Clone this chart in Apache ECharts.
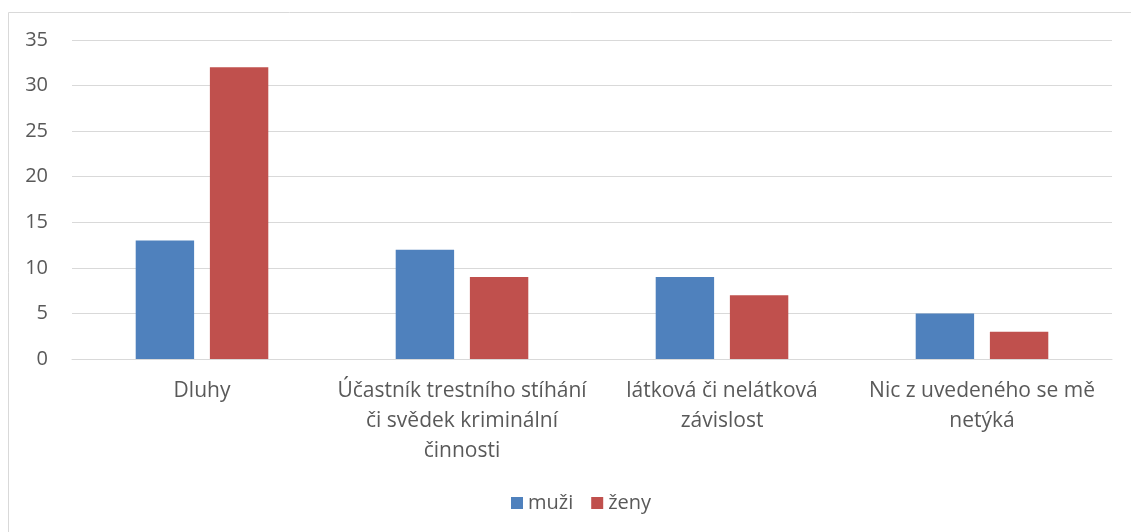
<!DOCTYPE html>
<html>
<head>
<meta charset="utf-8">
<script src="https://cdn.jsdelivr.net/npm/echarts@6/dist/echarts.min.js"></script>
<style>
  html, body { margin: 0; padding: 0; background: #fff; }
  #chart { width: 1131px; height: 532px; }
</style>
</head>
<body>
<div id="chart"></div>
<script>
const categories = [
  'Dluhy',
  'Účastník trestního stíhání\nči svědek kriminální\nčinnosti',
  'látková či nelátková\nzávislost',
  'Nic z uvedeného se mě\nnetýká'
]
const muzi = [13, 12, 9, 5]
const zeny = [32, 9, 7, 3]

const textColor = '#595959'
const font = 'Open Sans'

const chart = echarts.init(document.getElementById('chart'))
chart.setOption({
  animation: false,
  textStyle: { fontFamily: font },
  graphic: [{
    type: 'rect',
    shape: { x: 8.5, y: 12.5, width: 1140, height: 530 },
    style: { fill: 'none', stroke: '#d9d9d9', lineWidth: 1 },
    silent: true
  }],
  grid: { left: 72, right: 19, top: 40, bottom: 173 },
  legend: {
    bottom: 14,
    left: 506,
    itemWidth: 12,
    itemHeight: 12,
    itemGap: 18,
    icon: 'rect',
    textStyle: { color: textColor, fontSize: 20, fontFamily: font }
  },
  xAxis: {
    type: 'category',
    data: categories,
    axisLine: { lineStyle: { color: '#d9d9d9', width: 1 } },
    axisTick: { show: false },
    axisLabel: {
      color: textColor,
      fontSize: 21,
      lineHeight: 30,
      margin: 17,
      interval: 0
    }
  },
  yAxis: {
    type: 'value',
    min: 0,
    max: 35,
    interval: 5,
    axisLine: { show: false },
    axisTick: { show: false },
    splitLine: { lineStyle: { color: '#d9d9d9', width: 1 } },
    axisLabel: { color: textColor, fontSize: 20, margin: 24 }
  },
  series: [
    {
      name: 'muži',
      type: 'bar',
      data: muzi,
      barGap: '27%',
      barCategoryGap: '49%',
      itemStyle: { color: '#4f81bd' }
    },
    {
      name: 'ženy',
      type: 'bar',
      data: zeny,
      itemStyle: { color: '#c0504d' }
    }
  ]
})
</script>
</body>
</html>
